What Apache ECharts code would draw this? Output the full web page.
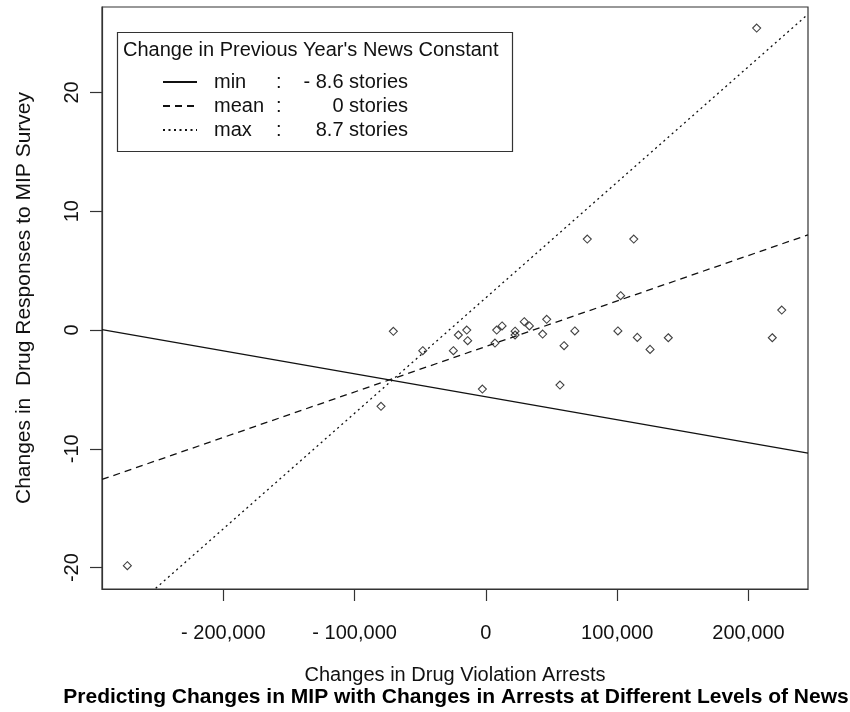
<!DOCTYPE html>
<html>
<head>
<meta charset="utf-8">
<script src="https://cdn.jsdelivr.net/npm/echarts@6/dist/echarts.min.js"></script>
<style>html,body{margin:0;padding:0;background:#fff;}#c{width:850px;height:712px;}</style>
</head>
<body>
<div id="c"></div>
<script>
// ---- data ----
const arrestsX = [-273100, -79900, -70500, -48100, -24800, -21000, -14600, -13900, -2700, 6900, 8200, 12300, 22200, 22200, 29200, 33100, 43200, 46300, 56400, 59500, 67700, 77200, 100500, 102600, 112600, 115300, 125000, 138900, 206200, 218100, 225300];
const mipY = [-19.84, -6.42, -0.11, -1.74, -1.74, -0.42, 0.0, -0.90, -4.97, -1.10, 0.0, 0.34, -0.10, -0.42, 0.70, 0.34, -0.34, 0.90, -4.63, -1.32, -0.08, 7.66, -0.08, 2.89, 7.66, -0.62, -1.63, -0.65, 25.42, -0.65, 1.68];
const lineX = [-292400, 245300];
const minLineY = [0.04, -10.36];
const meanLineY = [-12.58, 8.01];
const maxLineY = [-25.72, 26.58];
const xTicks = [-200000, -100000, 0, 100000, 200000];
const yTicks = [-20, -10, 0, 10, 20];
const legendNames = ['min', 'mean', 'max'];
const legendValues = ['- 8.6 stories', '0 stories', '8.7 stories'];
const legendTitle = "Change in Previous Year's News Constant";
const xTitle = 'Changes in Drug Violation Arrests';
const yTitle = 'Changes in  Drug Responses to MIP Survey';
const mainTitle = 'Predicting Changes in MIP with Changes in Arrests at Different Levels of News';

const FONT = '"Liberation Sans", Arial, sans-serif';
const INK = '#111';

function fmtX(v) {
  const a = Math.abs(v).toString().replace(/\B(?=(\d{3})+(?!\d))/g, ',');
  return v < 0 ? '- ' + a : a;
}
function linePts(ys) { return lineX.map((x, i) => [x, ys[i]]); }

const chart = echarts.init(document.getElementById('c'), null, {renderer: 'canvas'});
const lineStyles = {
  min: {type: 'solid', width: 1.3},
  mean: {type: [7, 5], width: 1.3},
  max: {type: [2, 3.5], width: 1.3}
};
const lineYs = {min: minLineY, mean: meanLineY, max: maxLineY};

const option = {
  animation: false,
  backgroundColor: '#fff',
  grid: {left: 102, right: 42, top: 7, bottom: 123, show: true, borderColor: '#333', borderWidth: 1.2, containLabel: false},
  xAxis: {
    type: 'value', min: lineX[0], max: lineX[1],
    axisLine: {show: true, onZero: false, lineStyle: {color: '#333', width: 1.2}},
    axisTick: {show: true, length: 12, customValues: xTicks, lineStyle: {color: '#333', width: 1.2}},
    axisLabel: {customValues: xTicks, formatter: fmtX, fontSize: 20, fontFamily: FONT, color: INK, margin: 34},
    splitLine: {show: false},
    name: xTitle, nameLocation: 'middle', nameGap: 76,
    nameTextStyle: {fontSize: 20, fontFamily: FONT, color: INK}
  },
  yAxis: {
    type: 'value', min: -21.80, max: 27.19,
    axisLine: {show: true, onZero: false, lineStyle: {color: '#333', width: 1.2}},
    axisTick: {show: true, length: 12, customValues: yTicks, lineStyle: {color: '#333', width: 1.2}},
    axisLabel: {customValues: yTicks, rotate: 90, fontSize: 20, fontFamily: FONT, color: INK, margin: 20},
    splitLine: {show: false},
    name: yTitle, nameLocation: 'middle', nameGap: 67,
    nameTextStyle: {fontSize: 21, fontFamily: FONT, color: INK}
  },
  legend: {
    data: legendNames,
    orient: 'vertical', left: 162, top: 70, padding: 0,
    itemWidth: 34, itemHeight: 14, itemGap: 0,
    itemStyle: {opacity: 0},
    textStyle: {
      fontSize: 20, fontFamily: FONT, color: INK, lineHeight: 24,
      rich: {
        n: {fontSize: 20, fontFamily: FONT, color: INK, width: 60, padding: [0, 0, 0, 12], align: 'left'},
        c: {fontSize: 20, fontFamily: FONT, color: INK, width: 12, padding: [0, 0, 0, 2], align: 'left'},
        v: {fontSize: 20, fontFamily: FONT, color: INK, width: 120, align: 'right'}
      }
    },
    formatter: function (name) {
      const i = legendNames.indexOf(name);
      return '{n|' + name + '}{c|:}{v|' + legendValues[i] + '}';
    },
    selectedMode: false
  },
  graphic: [
    {type: 'rect', shape: {x: 117.5, y: 32.5, width: 395, height: 119}, style: {fill: 'none', stroke: '#333', lineWidth: 1.2}, z: 50},
    {type: 'text', x: 123, y: 50, style: {text: legendTitle, font: '20px ' + FONT, fill: INK, textAlign: 'left', textVerticalAlign: 'middle'}, z: 50},
    {type: 'text', x: 456, y: 697, style: {text: mainTitle, font: 'bold 21px ' + FONT, fill: '#000', textAlign: 'center', textVerticalAlign: 'middle'}, z: 50}
  ],
  series: [
    {
      type: 'scatter', name: 'points',
      data: arrestsX.map((x, i) => [x, mipY[i]]),
      symbol: 'diamond', symbolSize: 8,
      itemStyle: {color: 'rgba(255,255,255,0)', borderColor: '#111', borderWidth: 1.1},
      z: 5
    }
  ].concat(legendNames.map(n => ({
    type: 'line', name: n, data: linePts(lineYs[n]),
    symbol: 'none', clip: true, silent: true,
    lineStyle: Object.assign({color: '#111'}, lineStyles[n]),
    itemStyle: {color: '#111'},
    z: 3
  })))
};
chart.setOption(option);
</script>
</body>
</html>
